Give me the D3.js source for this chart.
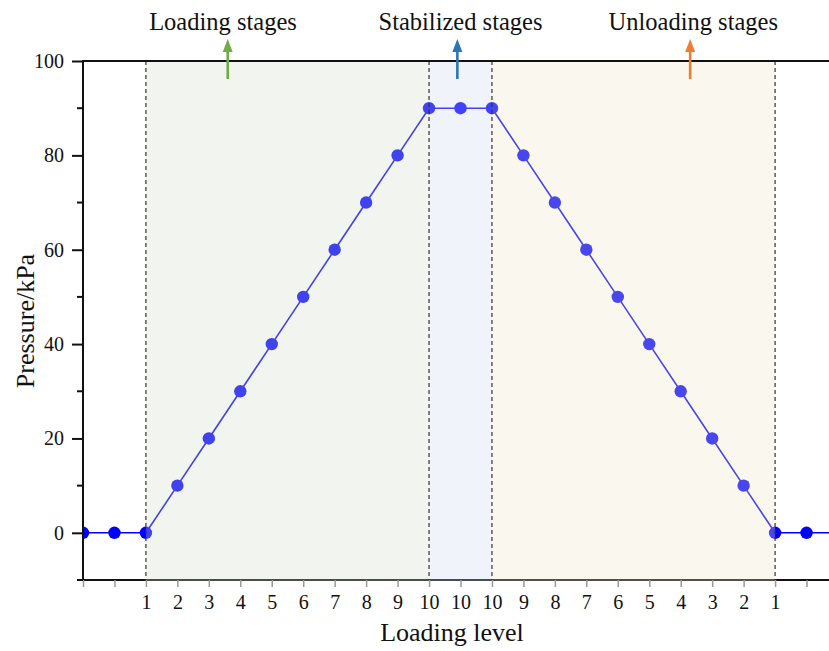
<!DOCTYPE html>
<html>
<head>
<meta charset="utf-8">
<script src="https://cdn.jsdelivr.net/npm/d3@7"></script>
<style>
  body { margin: 0; background: #fff; }
  svg { display: block; }
  text { font-family: "Liberation Serif", "Times New Roman", serif; fill: #111; }
</style>
</head>
<body>
<svg id="chart" width="829" height="651"></svg>
<script>
// ---- data ----
const tickLabels = ["", "", "1", "2", "3", "4", "5", "6", "7", "8", "9", "10", "10", "10",
                    "9", "8", "7", "6", "5", "4", "3", "2", "1", "", ""];
const pressure = [0, 0, 0, 10, 20, 30, 40, 50, 60, 70, 80, 90, 90, 90,
                  80, 70, 60, 50, 40, 30, 20, 10, 0, 0, 0];
const stageNames = ["Loading stages", "Stabilized stages", "Unloading stages"];
const stageStart = [2, 11, 13];
const stageEnd = [11, 13, 22];
const stageFill = ["rgb(213,218,202)", "rgb(208,215,242)", "rgb(238,232,198)"];
const arrowColors = ["#70ad47", "#2e75b6", "#ed7d31"];
const arrowPos = [4.6, 11.9, 19.3];
const labelPos = [4.45, 12.0, 19.4];
const dividers = [2, 11, 13, 22];
const yMajor = [0, 20, 40, 60, 80, 100];
const yMinor = [-10, 10, 30, 50, 70, 90];

(function () {
const svg = d3.select("#chart");
const pLeft = 83, pTop = 61, pBottom = 580, pRight = 838;
const x = d3.scaleLinear().domain([0, 24]).range([pLeft, pRight]);
const y = d3.scaleLinear().domain([-10, 100]).range([pBottom, pTop]);

svg.append("defs").append("clipPath").attr("id", "clip")
  .append("rect").attr("x", pLeft).attr("y", pTop)
  .attr("width", pRight - pLeft).attr("height", pBottom - pTop);

const plot = svg.append("g").attr("clip-path", "url(#clip)");

// line and points
const idx = d3.range(pressure.length);
plot.append("path")
  .datum(idx)
  .attr("fill", "none")
  .attr("stroke", "#0000ff")
  .attr("stroke-width", 1.6)
  .attr("d", d3.line().x(i => x(i)).y(i => y(pressure[i])));
plot.selectAll("circle.pt").data(idx).join("circle")
  .attr("class", "pt")
  .attr("cx", i => x(i)).attr("cy", i => y(pressure[i]))
  .attr("r", 6.2).attr("fill", "#0000ff");

// bottom axis line (before overlay)
svg.append("line").attr("x1", pLeft).attr("x2", 829).attr("y1", pBottom).attr("y2", pBottom)
  .attr("stroke", "#111").attr("stroke-width", 2);

// semi-transparent stage overlays
svg.selectAll("rect.stage").data(stageStart).join("rect")
  .attr("class", "stage")
  .attr("x", (d, i) => x(d)).attr("width", (d, i) => x(stageEnd[i]) - x(d))
  .attr("y", pTop).attr("height", pBottom - pTop + 1)
  .attr("fill", (d, i) => stageFill[i]).attr("fill-opacity", 0.3);

// dashed dividers
svg.selectAll("line.div").data(dividers).join("line")
  .attr("class", "div")
  .attr("x1", d => x(d)).attr("x2", d => x(d))
  .attr("y1", pTop).attr("y2", pBottom)
  .attr("stroke", "#333").attr("stroke-width", 1.2).attr("stroke-dasharray", "4,3");

// top frame line
svg.append("line").attr("x1", pLeft - 1).attr("x2", 829).attr("y1", pTop).attr("y2", pTop)
  .attr("stroke", "#111").attr("stroke-width", 2);

// x axis
const xAxis = d3.axisBottom(x).tickValues(idx.slice(0, 24)).tickSize(7).tickPadding(8)
  .tickFormat(i => tickLabels[i]);
const gx = svg.append("g").attr("transform", `translate(0,${pBottom})`).call(xAxis);
gx.select(".domain").remove();
gx.selectAll(".tick line").attr("stroke", "#999").attr("stroke-width", 1.5);
gx.selectAll(".tick text").attr("font-size", 20).attr("font-family", "Liberation Serif").attr("fill", "#111");

// y axis
const yAxis = d3.axisLeft(y).tickValues(yMajor).tickSize(11).tickPadding(8);
const gy = svg.append("g").attr("transform", `translate(${pLeft},0)`).call(yAxis);
gy.select(".domain").attr("stroke", "#111").attr("stroke-width", 2)
  .attr("d", `M0,${pTop}V${pBottom}`);
gy.selectAll(".tick line").attr("stroke", "#111").attr("stroke-width", 2);
gy.selectAll(".tick text").attr("font-size", 20).attr("font-family", "Liberation Serif").attr("fill", "#111");
gy.selectAll("line.minor").data(yMinor).join("line").attr("class", "minor")
  .attr("x1", -6).attr("x2", 0).attr("y1", d => y(d)).attr("y2", d => y(d))
  .attr("stroke", "#111").attr("stroke-width", 2);

// axis titles
svg.append("text").attr("x", 452).attr("y", 641).attr("text-anchor", "middle")
  .attr("font-size", 26).text("Loading level");
svg.append("text").attr("transform", "translate(34,321) rotate(-90)")
  .attr("text-anchor", "middle").attr("font-size", 26).text("Pressure/kPa");

// stage labels and arrows
svg.selectAll("text.stageLabel").data(stageNames).join("text")
  .attr("class", "stageLabel")
  .attr("x", (d, i) => x(labelPos[i])).attr("y", 30)
  .attr("text-anchor", "middle").attr("font-size", 24.5).text(d => d);
arrowColors.forEach((c, i) => {
  const ax = x(arrowPos[i]);
  svg.append("line").attr("x1", ax).attr("x2", ax).attr("y1", 79).attr("y2", 50)
    .attr("stroke", c).attr("stroke-width", 2.6);
  svg.append("path").attr("d", `M${ax - 5},${52}L${ax},${39}L${ax + 5},${52}Z`).attr("fill", c);
});
})();
</script>
</body>
</html>
